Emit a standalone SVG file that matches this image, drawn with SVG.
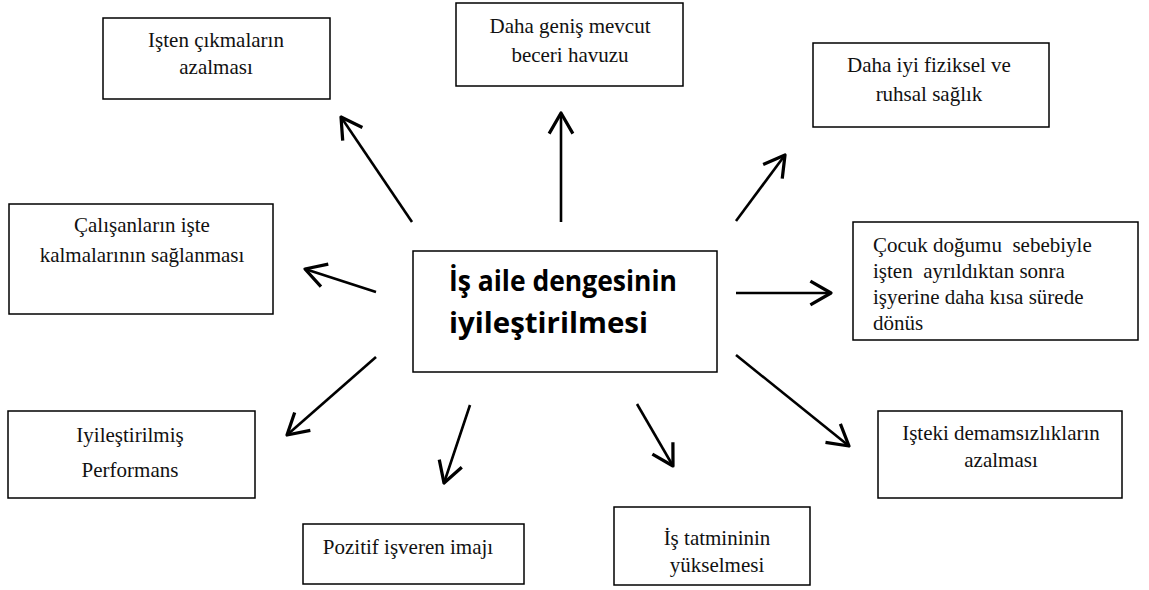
<svg xmlns="http://www.w3.org/2000/svg" width="1149" height="590" viewBox="0 0 1149 590">
  <defs>
    <style>
      .box { fill: #ffffff; stroke: #000000; stroke-width: 1.5; }
      .lbl { font-family: 'Liberation Serif', 'DejaVu Serif', serif; font-size: 21px; fill: #111111; text-anchor: middle; }
      .lbl-left { text-anchor: start; }
      .core { font-family: 'Open Sans', 'Noto Sans', sans-serif; font-weight: bold; font-size: 28px; fill: #000000; }
      .link { stroke: #000000; stroke-width: 2.6; fill: none; marker-end: url(#open-arrow); }
    </style>
    <!-- open, two-stroke arrowhead -->
    <marker id="open-arrow" markerUnits="userSpaceOnUse" markerWidth="30" markerHeight="30" viewBox="-20 -12 24 24" refX="0" refY="0" orient="auto" overflow="visible">
      <path d="M -16.5 -9.5 L 0 0 L -16.5 9.5" fill="none" stroke="#000000" stroke-width="2.6" stroke-linejoin="round" stroke-linecap="butt"/>
    </marker>
  </defs>

  <rect width="1149" height="590" fill="#ffffff"/>

  <!-- connectors radiating from the central box -->
  <g id="connectors">
    <line class="link" x1="412" y1="222" x2="341" y2="117"/>
    <line class="link" x1="376" y1="292" x2="305" y2="269"/>
    <line class="link" x1="561" y1="222" x2="561" y2="113"/>
    <line class="link" x1="736" y1="221" x2="785" y2="155"/>
    <line class="link" x1="736" y1="293" x2="831" y2="293"/>
    <line class="link" x1="736" y1="355" x2="849" y2="446"/>
    <line class="link" x1="637" y1="404" x2="673" y2="466"/>
    <line class="link" x1="470" y1="405" x2="444" y2="483"/>
    <line class="link" x1="376" y1="357" x2="287" y2="435"/>
  </g>

  <g id="center">
    <rect class="box" x="413" y="251" width="304" height="121"/>
    <text class="core" x="449" y="291" textLength="228" lengthAdjust="spacingAndGlyphs">İş aile dengesinin</text>
    <text class="core" x="449" y="333" textLength="199" lengthAdjust="spacingAndGlyphs">iyileştirilmesi</text>
  </g>

  <g font-family="Liberation Serif, serif">
    <g id="node-isten-cikma">
      <rect class="box" x="103" y="18" width="227" height="81"/>
      <text class="lbl" x="216" y="47">Işten çıkmaların</text>
      <text class="lbl" x="216" y="74">azalması</text>
    </g>

    <g id="node-beceri-havuzu">
      <rect class="box" x="456" y="3" width="227" height="83"/>
      <text class="lbl" x="570" y="33">Daha geniş mevcut</text>
      <text class="lbl" x="570" y="62">beceri havuzu</text>
    </g>

    <g id="node-saglik">
      <rect class="box" x="813" y="43" width="236" height="84"/>
      <text class="lbl" x="929" y="72">Daha iyi fiziksel ve</text>
      <text class="lbl" x="929" y="101">ruhsal sağlık</text>
    </g>

    <g id="node-isde-kalma">
      <rect class="box" x="9" y="204" width="264" height="110"/>
      <text class="lbl" x="142" y="232">Çalışanların işte</text>
      <text class="lbl" x="142" y="262">kalmalarının sağlanması</text>
    </g>

    <g id="node-dogum-donus">
      <rect class="box" x="853" y="222" width="285" height="118"/>
      <text class="lbl lbl-left" x="873" y="252" xml:space="preserve">Çocuk doğumu  sebebiyle</text>
      <text class="lbl lbl-left" x="873" y="278" xml:space="preserve">işten  ayrıldıktan sonra</text>
      <text class="lbl lbl-left" x="873" y="304">işyerine daha kısa sürede</text>
      <text class="lbl lbl-left" x="873" y="330">dönüs</text>
    </g>

    <g id="node-performans">
      <rect class="box" x="8" y="411" width="247" height="87"/>
      <text class="lbl" x="130" y="442">Iyileştirilmiş</text>
      <text class="lbl" x="130" y="477">Performans</text>
    </g>

    <g id="node-isveren-imaji">
      <rect class="box" x="303" y="524" width="221" height="60"/>
      <text class="lbl" x="408" y="554">Pozitif işveren imajı</text>
    </g>

    <g id="node-is-tatmini">
      <rect class="box" x="614" y="507" width="196" height="78"/>
      <text class="lbl" x="717" y="545">İş tatmininin</text>
      <text class="lbl" x="717" y="572">yükselmesi</text>
    </g>

    <g id="node-demamsizlik">
      <rect class="box" x="878" y="411" width="244" height="87"/>
      <text class="lbl" x="1001" y="440">Işteki demamsızlıkların</text>
      <text class="lbl" x="1001" y="467">azalması</text>
    </g>
  </g>
</svg>
